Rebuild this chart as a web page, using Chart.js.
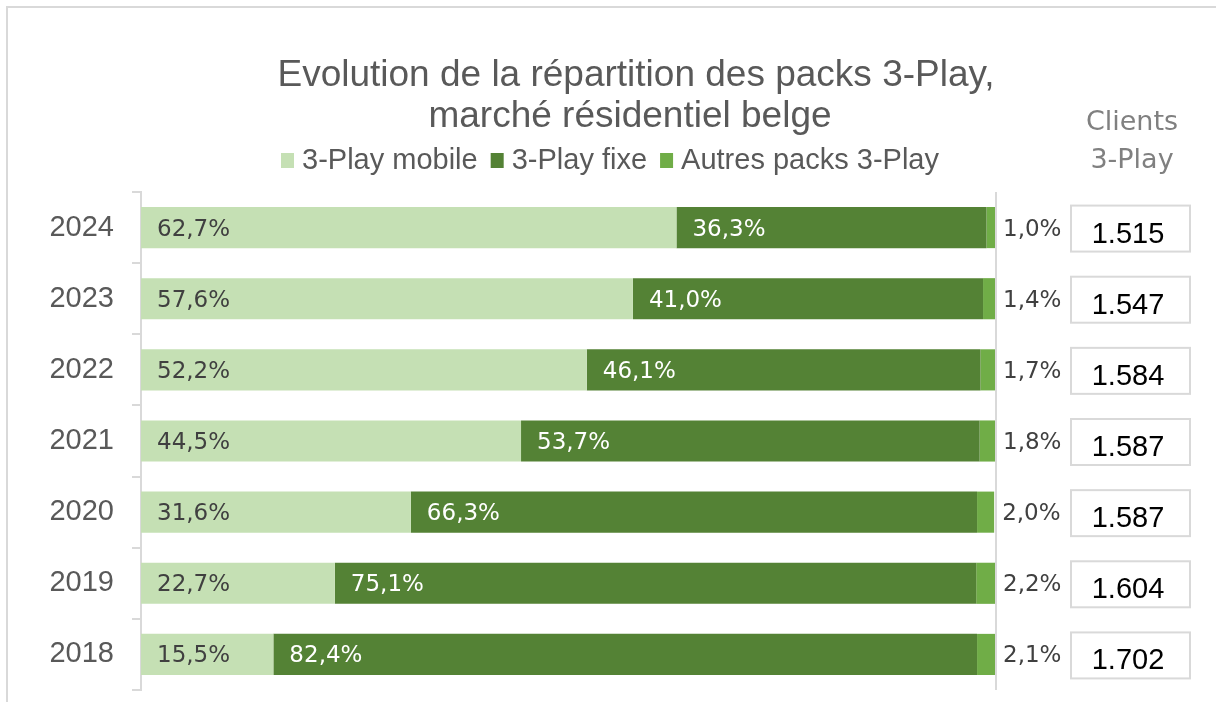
<!DOCTYPE html>
<html><head><meta charset="utf-8">
<script src="https://cdn.jsdelivr.net/npm/chart.js@4.4.1/dist/chart.umd.min.js"></script>
<style>html,body{margin:0;padding:0;background:#fff;}#wrap{width:1216px;height:702px;position:relative;}</style>
</head><body><div id="wrap"><canvas id="c" width="1216" height="702"></canvas></div>
<script>
const years = ['2024','2023','2022','2021','2020','2019','2018'];
const mobile = [62.7,57.6,52.2,44.5,31.6,22.7,15.5];
const fixe = [36.3,41.0,46.1,53.7,66.3,75.1,82.4];
const autres = [1.0,1.4,1.7,1.8,2.0,2.2,2.1];
const clients = ['1.515','1.547','1.584','1.587','1.587','1.604','1.702'];
const seriesNames = ['3-Play mobile','3-Play fixe','Autres packs 3-Play'];
const seriesColors = ['#c5e0b4','#548235','#70ad47'];
const titleLines = ['Evolution de la répartition des packs 3-Play,','marché résidentiel belge'];
const clientsHeader = ['Clients','3-Play'];

const fmt = v => v.toFixed(1).replace('.', ',') + '%';
const SANS = '"Liberation Sans", Arial, sans-serif';
const DJ = '"DejaVu Sans", Verdana, sans-serif';

const decor = {
  id: 'decor',
  beforeDraw(chart) {
    const ctx = chart.ctx;
    ctx.save();
    ctx.fillStyle = '#fff';
    ctx.fillRect(0, 0, chart.width, chart.height);
    ctx.strokeStyle = '#d9d9d9';
    ctx.lineWidth = 2;
    ctx.beginPath();
    ctx.moveTo(7, chart.height); ctx.lineTo(7, 7); ctx.lineTo(chart.width, 7);
    ctx.stroke();
    ctx.restore();
  },
  afterDatasetsDraw(chart) {
    const ctx = chart.ctx;
    const ca = chart.chartArea;
    ctx.save();
    ctx.strokeStyle = '#d9d9d9';
    ctx.lineWidth = 2;
    ctx.beginPath();
    ctx.moveTo(ca.right + 1, ca.top); ctx.lineTo(ca.right + 1, ca.bottom);
    ctx.stroke();
    ctx.font = '23px ' + DJ;
    ctx.textBaseline = 'middle';
    ctx.textAlign = 'left';
    chart.data.datasets.forEach((ds, i) => {
      const meta = chart.getDatasetMeta(i);
      meta.data.forEach((bar, j) => {
        const p = bar.getProps(['x', 'y', 'base'], true);
        const txt = fmt(ds.data[j]);
        let x;
        if (i < 2) { x = Math.min(p.base, p.x) + 16; ctx.fillStyle = i === 0 ? '#404040' : '#ffffff'; }
        else { x = Math.max(p.base, p.x) + 8; ctx.fillStyle = '#404040'; }
        ctx.fillText(txt, x, p.y + 2);
      });
    });
    const ys = chart.scales.y;
    clients.forEach((c, j) => {
      const yc = ys.getPixelForValue(j);
      ctx.strokeStyle = '#d9d9d9';
      ctx.lineWidth = 2;
      ctx.strokeRect(1071, yc - 22, 119, 46);
      ctx.fillStyle = '#000';
      ctx.font = '29px ' + SANS;
      ctx.textAlign = 'center';
      ctx.fillText(c, 1128, yc + 7);
    });
    ctx.restore();
  },
  afterDraw(chart) {
    const ctx = chart.ctx;
    ctx.save();
    ctx.textBaseline = 'middle';
    ctx.fillStyle = '#595959';
    ctx.font = '37px ' + SANS;
    ctx.textAlign = 'center';
    ctx.fillText(titleLines[0], 636, 76);
    ctx.fillText(titleLines[1], 630, 117);
    ctx.font = '29px ' + SANS;
    ctx.textAlign = 'left';
    let x = 281;
    seriesNames.forEach((n, i) => {
      ctx.fillStyle = seriesColors[i];
      ctx.fillRect(x, 153, 13, 15);
      x += 13 + 8;
      ctx.fillStyle = '#595959';
      ctx.fillText(n, x, 161);
      x += ctx.measureText(n).width + 13;
    });
    ctx.fillStyle = '#808080';
    ctx.font = '27px ' + DJ;
    ctx.textAlign = 'center';
    ctx.fillText(clientsHeader[0], 1132, 123);
    ctx.fillText(clientsHeader[1], 1132, 161);
    ctx.restore();
  }
};

new Chart(document.getElementById('c'), {
  type: 'bar',
  data: {
    labels: years,
    datasets: [
      { label: seriesNames[0], data: mobile, backgroundColor: seriesColors[0] },
      { label: seriesNames[1], data: fixe, backgroundColor: seriesColors[1] },
      { label: seriesNames[2], data: autres, backgroundColor: seriesColors[2] }
    ]
  },
  options: {
    indexAxis: 'y',
    responsive: false,
    animation: false,
    layout: { padding: { top: 192, bottom: 12, left: 0, right: 221 } },
    datasets: { bar: { categoryPercentage: 1, barPercentage: 0.578, borderWidth: 0 } },
    plugins: { legend: { display: false }, title: { display: false }, tooltip: { enabled: false } },
    scales: {
      x: { stacked: true, min: 0, max: 100, display: false },
      y: {
        stacked: true,
        grid: { display: true, drawOnChartArea: false, drawTicks: true, tickLength: 9, color: '#d9d9d9', lineWidth: 2 },
        border: { display: true, color: '#d9d9d9', width: 2 },
        ticks: { font: { size: 29, family: SANS }, color: '#595959', padding: 18 },
        afterFit(s) { s.width = 141; s.paddingTop = 0; s.paddingBottom = 0; }
      }
    }
  },
  plugins: [decor]
});
</script></body></html>
